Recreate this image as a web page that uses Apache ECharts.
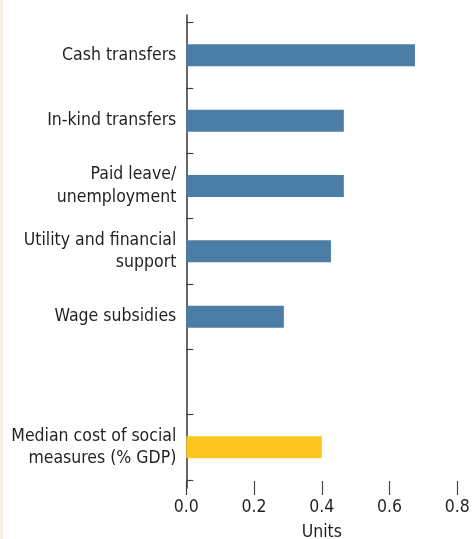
<!DOCTYPE html>
<html>
<head>
<meta charset="utf-8">
<script src="https://cdn.jsdelivr.net/npm/echarts@6/dist/echarts.min.js"></script>
<style>
  html, body { margin: 0; padding: 0; }
  body { background: linear-gradient(to right, #f4efe2 0, #f4efe2 3px, #ffffff 3px); }
  #chart { width: 473px; height: 539px; }
</style>
</head>
<body>
<div id="chart"></div>
<script>
// ---- data ----
const measureCategories = ["Cash transfers", "In-kind transfers", "Paid leave/\nunemployment", "Utility and financial\nsupport", "Wage subsidies"];
const measureValues = [0.675, 0.465, 0.465, 0.427, 0.288];
const medianCategory = ["Median cost of social\nmeasures (% GDP)"];
const medianValues = [0.40];
const xTicks = [0, 0.2, 0.4, 0.6, 0.8];
const xAxisName = "Units";

// ---- build ----
const categories = measureCategories.concat([""], medianCategory);
const barData = measureValues.map(v => ({ value: v, itemStyle: { color: "#4a7ea7" } }))
  .concat([null])
  .concat(medianValues.map(v => ({ value: v, itemStyle: { color: "#fdc520" } })));

const FONT = "'DejaVu Sans Condensed', 'DejaVu Sans', sans-serif";
const FS = 17.5;
const TEXT = "#231f20";
const xMin = xTicks[0], xMax = xTicks[xTicks.length - 1], xInt = xTicks[1] - xTicks[0];

const chart = echarts.init(document.getElementById("chart"), null, { renderer: "canvas" });
chart.setOption({
  backgroundColor: "transparent",
  animation: false,
  grid: [
    { left: 186.3, right: 15.7, top: 22.7, bottom: 59, containLabel: false, outerBoundsMode: "none" },
    { left: 186.3, right: 15.7, top: 15, bottom: 51, containLabel: false, outerBoundsMode: "none" }
  ],
  xAxis: [
    { gridIndex: 0, type: "value", min: xMin, max: xMax, interval: xInt, show: false },
    {
      gridIndex: 1, type: "value", position: "top", min: xMin, max: xMax, interval: xInt,
      axisLine: { show: false },
      axisTick: { show: true, inside: true, length: 7, lineStyle: { color: "#444", width: 1.2 } },
      axisLabel: { show: false },
      splitLine: { show: false }
    },
    {
      gridIndex: 1, type: "value", position: "bottom", min: xMin, max: xMax, interval: xInt,
      axisLine: { show: false },
      axisTick: { show: true, inside: true, length: 7, lineStyle: { color: "#444", width: 1.2 } },
      axisLabel: { show: true, margin: 10, fontSize: FS, fontFamily: FONT, color: TEXT,
        formatter: v => v.toFixed(1) },
      splitLine: { show: false },
      name: xAxisName, nameLocation: "middle", nameGap: 35,
      nameTextStyle: { fontSize: FS, fontFamily: FONT, color: TEXT }
    }
  ],
  yAxis: [
    {
      gridIndex: 0, type: "category", data: categories, inverse: true,
      axisLine: { show: false },
      axisTick: { show: true, inside: true, length: 7, lineStyle: { color: "#444", width: 1.2 } },
      axisLabel: { show: true, margin: 10, fontSize: FS, fontFamily: FONT, color: TEXT,
        lineHeight: 22.5, align: "right" },
      splitLine: { show: false }
    },
    {
      gridIndex: 1, type: "value", min: 0, max: 1,
      axisLine: { show: true, lineStyle: { color: "#333", width: 1.5 } },
      axisTick: { show: false }, axisLabel: { show: false }, splitLine: { show: false }
    }
  ],
  series: [
    {
      type: "bar", xAxisIndex: 0, yAxisIndex: 0, data: barData,
      barWidth: 22, silent: true
    }
  ]
});
</script>
</body>
</html>
